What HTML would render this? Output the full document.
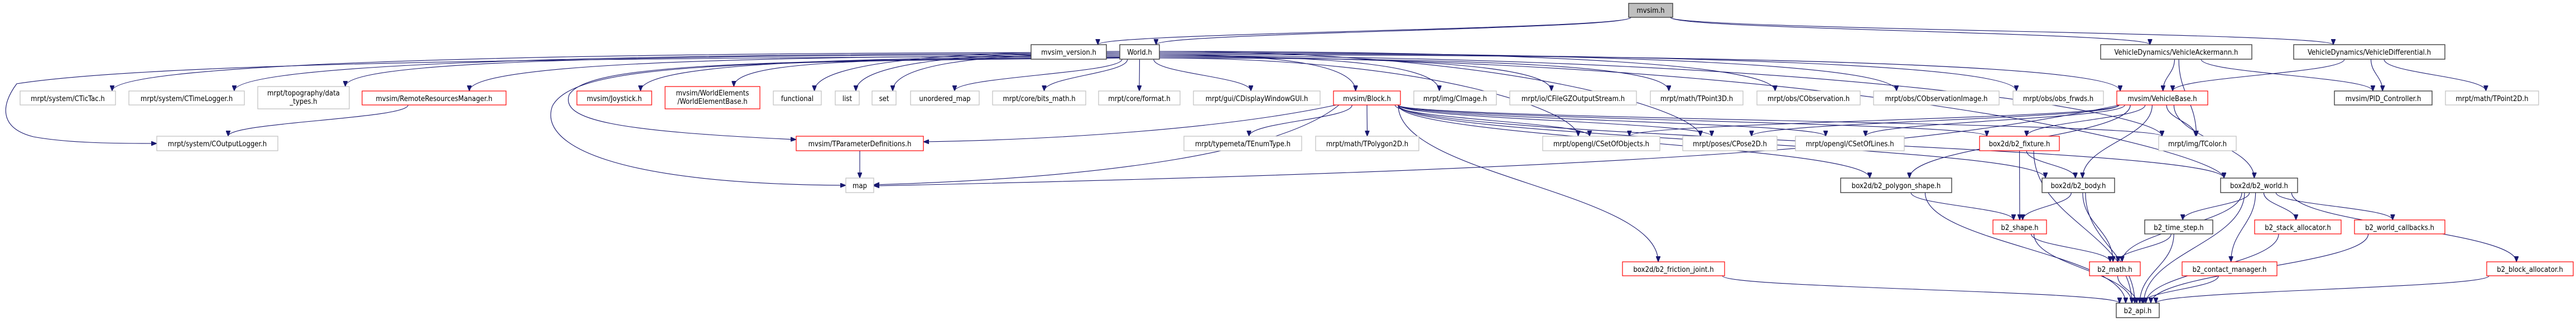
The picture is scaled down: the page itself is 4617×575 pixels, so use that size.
<!DOCTYPE html>
<html><head><meta charset="utf-8">
<style>
html,body{margin:0;padding:0;background:#fff;}
svg{display:block;}
text{font-family:"DejaVu Sans Condensed","Liberation Sans Narrow","Liberation Sans",sans-serif;font-size:13px;fill:#000;}
.g{fill:#fff;stroke:#bfbfbf;stroke-width:1.2}
.r{fill:#fff;stroke:#ff0000;stroke-width:1.2}
.k{fill:#fff;stroke:#404040;stroke-width:1.4}
.f{fill:#bfbfbf;stroke:#404040;stroke-width:1.4}
.e{fill:none;stroke:#191970;stroke-width:1.1}
</style></head><body>
<svg id="s" width="4617" height="575" viewBox="0 0 4617 575" xmlns="http://www.w3.org/2000/svg">
<defs><marker id="a" markerUnits="userSpaceOnUse" markerWidth="11" markerHeight="8" refX="10" refY="4" orient="auto"><path d="M0,0 L10,4 L0,8 z" fill="#191970" stroke="#191970"/></marker></defs>
<g id="edges"></g>
<g id="nodes">
<rect class="f" x="2919" y="6" width="79" height="25"/><text x="2958.5" y="23" text-anchor="middle">mvsim.h</text>
<rect class="k" x="1848" y="80" width="135" height="26"/><text x="1915.5" y="98" text-anchor="middle">mvsim_version.h</text>
<rect class="k" x="2007" y="80" width="71" height="26"/><text x="2042.5" y="98" text-anchor="middle">World.h</text>
<rect class="k" x="3765" y="80" width="271" height="26"/><text x="3900.5" y="98" text-anchor="middle">VehicleDynamics/VehicleAckermann.h</text>
<rect class="k" x="4111" y="80" width="271" height="26"/><text x="4246.5" y="98" text-anchor="middle">VehicleDynamics/VehicleDifferential.h</text>

<rect class="g" x="36" y="163" width="171" height="25"/><text x="121.5" y="181" text-anchor="middle">mrpt/system/CTicTac.h</text>
<rect class="g" x="231" y="163" width="207" height="25"/><text x="334.5" y="181" text-anchor="middle">mrpt/system/CTimeLogger.h</text>
<rect class="g" x="462" y="155" width="164" height="40"/><text x="544" y="171" text-anchor="middle">mrpt/topography/data</text><text x="544" y="186" text-anchor="middle">_types.h</text>
<rect class="r" x="649" y="163" width="258" height="25"/><text x="778" y="181" text-anchor="middle">mvsim/RemoteResourcesManager.h</text>
<rect class="r" x="1034" y="163" width="134" height="25"/><text x="1101" y="181" text-anchor="middle">mvsim/Joystick.h</text>
<rect class="r" x="1192" y="155" width="170" height="40"/><text x="1277" y="171" text-anchor="middle">mvsim/WorldElements</text><text x="1277" y="186" text-anchor="middle">/WorldElementBase.h</text>
<rect class="g" x="1386" y="163" width="86" height="25"/><text x="1429" y="181" text-anchor="middle">functional</text>
<rect class="g" x="1497" y="163" width="43" height="25"/><text x="1518.5" y="181" text-anchor="middle">list</text>
<rect class="g" x="1563" y="163" width="43" height="25"/><text x="1584.5" y="181" text-anchor="middle">set</text>
<rect class="g" x="1632" y="163" width="123" height="25"/><text x="1693.5" y="181" text-anchor="middle">unordered_map</text>
<rect class="g" x="1779" y="163" width="167" height="25"/><text x="1862.5" y="181" text-anchor="middle">mrpt/core/bits_math.h</text>
<rect class="g" x="1969" y="163" width="146" height="25"/><text x="2042" y="181" text-anchor="middle">mrpt/core/format.h</text>
<rect class="g" x="2139" y="163" width="227" height="25"/><text x="2252.5" y="181" text-anchor="middle">mrpt/gui/CDisplayWindowGUI.h</text>
<rect class="r" x="2390" y="163" width="120" height="25"/><text x="2450" y="181" text-anchor="middle">mvsim/Block.h</text>
<rect class="g" x="2534" y="163" width="148" height="25"/><text x="2608" y="181" text-anchor="middle">mrpt/img/CImage.h</text>
<rect class="g" x="2706" y="163" width="227" height="25"/><text x="2819.5" y="181" text-anchor="middle">mrpt/io/CFileGZOutputStream.h</text>
<rect class="g" x="2958" y="163" width="166" height="25"/><text x="3041" y="181" text-anchor="middle">mrpt/math/TPoint3D.h</text>
<rect class="g" x="3149" y="163" width="185" height="25"/><text x="3241.5" y="181" text-anchor="middle">mrpt/obs/CObservation.h</text>
<rect class="g" x="3358" y="163" width="225" height="25"/><text x="3470.5" y="181" text-anchor="middle">mrpt/obs/CObservationImage.h</text>
<rect class="g" x="3608" y="163" width="162" height="25"/><text x="3689" y="181" text-anchor="middle">mrpt/obs/obs_frwds.h</text>
<rect class="r" x="3794" y="163" width="163" height="25"/><text x="3875.5" y="181" text-anchor="middle">mvsim/VehicleBase.h</text>
<rect class="k" x="4184" y="163" width="175" height="25"/><text x="4271.5" y="181" text-anchor="middle">mvsim/PID_Controller.h</text>
<rect class="g" x="4383" y="163" width="167" height="25"/><text x="4466.5" y="181" text-anchor="middle">mrpt/math/TPoint2D.h</text>

<rect class="g" x="281" y="244" width="217" height="26"/><text x="389.5" y="262" text-anchor="middle">mrpt/system/COutputLogger.h</text>
<rect class="r" x="1427" y="244" width="228" height="26"/><text x="1541" y="262" text-anchor="middle">mvsim/TParameterDefinitions.h</text>
<rect class="g" x="2122" y="244" width="211" height="26"/><text x="2227.5" y="262" text-anchor="middle">mrpt/typemeta/TEnumType.h</text>
<rect class="g" x="2358" y="244" width="185" height="26"/><text x="2450.5" y="262" text-anchor="middle">mrpt/math/TPolygon2D.h</text>
<rect class="g" x="2765" y="244" width="210" height="26"/><text x="2870" y="262" text-anchor="middle">mrpt/opengl/CSetOfObjects.h</text>
<rect class="g" x="3016" y="244" width="169" height="26"/><text x="3100.5" y="262" text-anchor="middle">mrpt/poses/CPose2D.h</text>
<rect class="g" x="3218" y="244" width="195" height="26"/><text x="3315.5" y="262" text-anchor="middle">mrpt/opengl/CSetOfLines.h</text>
<rect class="r" x="3548" y="244" width="143" height="26"/><text x="3619.5" y="262" text-anchor="middle">box2d/b2_fixture.h</text>
<rect class="g" x="3869" y="244" width="139" height="26"/><text x="3938.5" y="262" text-anchor="middle">mrpt/img/TColor.h</text>

<rect class="g" x="1516" y="319" width="50" height="26"/><text x="1541" y="337" text-anchor="middle">map</text>
<rect class="k" x="3299" y="319" width="199" height="26"/><text x="3398.5" y="337" text-anchor="middle">box2d/b2_polygon_shape.h</text>
<rect class="k" x="3660" y="319" width="130" height="26"/><text x="3725" y="337" text-anchor="middle">box2d/b2_body.h</text>
<rect class="k" x="3980" y="319" width="138" height="26"/><text x="4049" y="337" text-anchor="middle">box2d/b2_world.h</text>

<rect class="r" x="3572" y="394" width="96" height="25"/><text x="3620" y="412" text-anchor="middle">b2_shape.h</text>
<rect class="k" x="3844" y="394" width="122" height="25"/><text x="3905" y="412" text-anchor="middle">b2_time_step.h</text>
<rect class="r" x="4041" y="394" width="155" height="25"/><text x="4118.5" y="412" text-anchor="middle">b2_stack_allocator.h</text>
<rect class="r" x="4220" y="394" width="162" height="25"/><text x="4301" y="412" text-anchor="middle">b2_world_callbacks.h</text>

<rect class="r" x="2908" y="469" width="183" height="25"/><text x="2999.5" y="487" text-anchor="middle">box2d/b2_friction_joint.h</text>
<rect class="r" x="3745" y="469" width="91" height="25"/><text x="3790.5" y="487" text-anchor="middle">b2_math.h</text>
<rect class="r" x="3911" y="469" width="170" height="25"/><text x="3996" y="487" text-anchor="middle">b2_contact_manager.h</text>
<rect class="r" x="4457" y="469" width="155" height="25"/><text x="4534.5" y="487" text-anchor="middle">b2_block_allocator.h</text>

<rect class="k" x="3793" y="543" width="77" height="26"/><text x="3831.5" y="561" text-anchor="middle">b2_api.h</text>
</g>
</svg>
<script>
(function(){
var R=[[6,31],[80,106],[163,188],[244,270],[319,345],[394,419],[469,494],[543,569]];
var N={mvsim:[2919,2998,0],world:[2007,2078,1],mver:[1848,1983,1],vack:[3765,4036,1],vdiff:[4111,4382,1],
tictac:[36,207,2],timelog:[231,438,2],topo:[462,626,2,155,195],rrm:[649,907,2],joy:[1034,1168,2],web:[1192,1362,2,155,195],
func:[1386,1472,2],list:[1497,1540,2],set:[1563,1606,2],umap:[1632,1755,2],bits:[1779,1946,2],fmt:[1969,2115,2],gui:[2139,2366,2],
block:[2390,2510,2],cimg:[2534,2682,2],gz:[2706,2933,2],tp3:[2958,3124,2],cobs:[3149,3334,2],cobsi:[3358,3583,2],frwds:[3608,3770,2],
vbase:[3794,3957,2],pid:[4184,4359,2],tp2:[4383,4550,2],outlog:[281,498,3],tparam:[1427,1655,3],tenum:[2122,2333,3],tpoly:[2358,2543,3],
csoo:[2765,2975,3],pose:[3016,3185,3],csol:[3218,3413,3],fix:[3548,3691,3],tcolor:[3869,4008,3],map:[1516,1566,4],poly:[3299,3498,4],
body:[3660,3790,4],world2:[3980,4118,4],shape:[3572,3668,5],tstep:[3844,3966,5],stack:[4041,4196,5],wcb:[4220,4382,5],
fric:[2908,3091,6],math:[3745,3836,6],cman:[3911,4081,6],balloc:[4457,4612,6],api:[3793,3870,7]};
function top(n){return n[3]!==undefined?n[3]:R[n[2]][0];}
function bot(n){return n[4]!==undefined?n[4]:R[n[2]][1];}
var E=[["mvsim","mver"],["mvsim","world"],["mvsim","vack"],["mvsim","vdiff"],
["world","tictac"],["world","timelog"],["world","topo"],["world","rrm"],["world","joy"],["world","web"],["world","func"],["world","list"],["world","set"],
["world","umap"],["world","bits"],["world","fmt"],["world","gui"],["world","block"],["world","cimg"],["world","gz"],["world","tp3"],["world","cobs"],
["world","cobsi"],["world","frwds"],["world","vbase"],["world","tcolor"],["world","world2"],["world","csoo"],["world","pose"],
["rrm","outlog"],["block","tenum"],["block","tpoly"],["block","csoo"],["block","pose"],["block","csol"],["block","fix"],["block","tcolor"],
["block","poly"],["block","fric"],["block","body"],["block","world2"],
["vbase","csoo"],["vbase","pose"],["vbase","csol"],["vbase","fix"],["vbase","poly"],["vbase","body"],["vbase","tcolor"],["vbase","world2"],
["vack","vbase"],["vack","pid"],["vack","tcolor"],["vdiff","vbase"],["vdiff","pid"],["vdiff","tp2"],
["fix","shape"],["fix","body"],["fix","api"],["poly","shape"],["poly","api"],["body","shape"],["body","math"],["body","api"],
["world2","math"],["world2","tstep"],["world2","cman"],["world2","stack"],["world2","wcb"],["world2","balloc"],["world2","api"],
["shape","math"],["shape","api"],["tstep","math"],["tstep","api"],["cman","api"],["stack","api"],["wcb","api"],["balloc","api"],
["fric","api"],["math","api"],["tparam","map"]];
var g=document.getElementById("edges"),h="";
function p(d){h+='<path class="e" d="'+d+'" marker-end="url(#a)"/>';}
var wi=0;
E.forEach(function(e){var s=N[e[0]],t=N[e[1]];
 var sc=(s[0]+s[1])/2,hw=(s[1]-s[0])/2,tc=(t[0]+t[1])/2,thw=(t[1]-t[0])/2;
 var tx=tc-Math.max(-thw+6,Math.min(thw-6,(tc-sc)*0.05)),ty=top(t);
 if(e[0]==="world"&&Math.abs(tc-sc)>350){
   wi++;
   var left=tc<sc, sx=left?s[0]:s[1], sy=92+(wi%7)*2;
   var mx=tx+(sx-tx)*0.35;
   p("M"+sx+","+sy+" C"+mx+","+sy+" "+tx+","+(ty-45)+" "+tx+","+ty);
   return;
 }
 var off=Math.max(-hw+4,Math.min(hw-4,(tc-sc)*0.12));
 var sx=sc+off,sy=bot(s);
 var d=(ty-sy)*0.45;
 p("M"+sx+","+sy+" C"+sx+","+(sy+d)+" "+tx+","+(ty-d)+" "+tx+","+ty);
});
p("M2007,100 C1200,104 300,108 30,150 C0,190 0,230 60,245 C120,256 200,257 281,257");
p("M2008,104 C1300,110 1030,115 990,190 C965,260 1100,330 1516,332");
p("M2009,103 C1300,108 1050,118 1020,170 C1005,215 1100,235 1427,250");
p("M2400,188 C2300,270 2000,318 1566,331");
p("M3800,188 C3500,250 3100,300 1566,333");
p("M2395,188 C2200,230 1900,250 1655,254");
g.innerHTML=h;
})();
</script>
</body></html>
